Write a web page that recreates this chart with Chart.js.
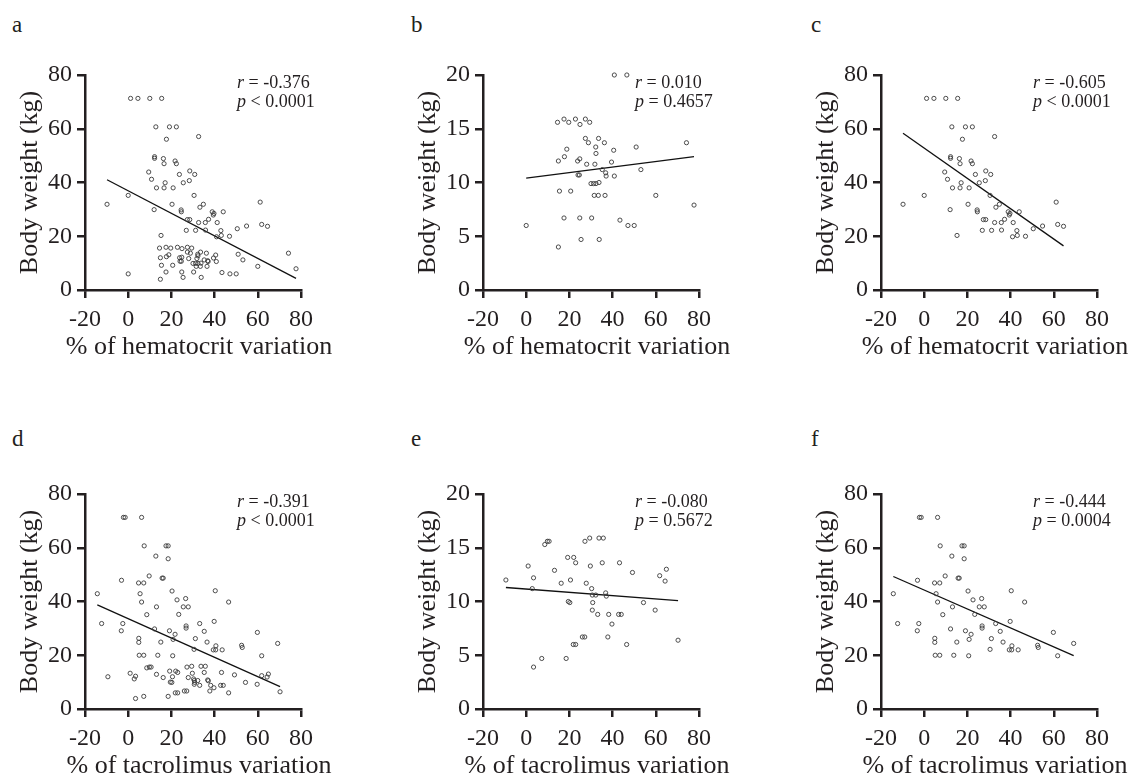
<!DOCTYPE html>
<html>
<head>
<meta charset="utf-8">
<script src="https://cdn.jsdelivr.net/npm/chart.js@4.4.1/dist/chart.umd.min.js"></script>
<style>
  html, body { margin: 0; padding: 0; background: #fff; }
  #page { position: relative; width: 1132px; height: 781px; overflow: hidden; }
  #page canvas { position: absolute; }
  .tag { position: absolute; font: 23px/23px 'Liberation Serif', 'Times New Roman', serif; color: #231f20; }
</style>
</head>
<body>
<div id="page">
  <div class="tag" style="left:12px;top:13px">a</div>
  <div class="tag" style="left:411px;top:13px">b</div>
  <div class="tag" style="left:811px;top:13px">c</div>
  <div class="tag" style="left:12px;top:427px">d</div>
  <div class="tag" style="left:411px;top:427px">e</div>
  <div class="tag" style="left:811px;top:427px">f</div>
  <canvas id="pa" width="340" height="380" style="left:0px;top:0px"></canvas>
  <canvas id="pb" width="340" height="380" style="left:398px;top:0px"></canvas>
  <canvas id="pc" width="336" height="380" style="left:796px;top:0px"></canvas>
  <canvas id="pd" width="340" height="380" style="left:0px;top:419px"></canvas>
  <canvas id="pe" width="340" height="380" style="left:398px;top:419px"></canvas>
  <canvas id="pf" width="336" height="380" style="left:796px;top:419px"></canvas>
</div>
<script>
const FONT = "'Liberation Serif', 'Times New Roman', serif";
const INK = '#231f20';

// % of hematocrit variation vs body weight: under 20 kg (panel b), 20 kg and over (panel c)
const hctLowX = [40.8, 46.6, 14.5, 17.5, 19.7, 22.8, 24.9, 27.4, 29.4, 27.4, 28.8, 33.5, 36.2,
  18.8, 32.2, 40.5, 50.9, 74.2, 17.7, 32.3, 14.9, 23.8, 24.8, 28.0, 31.8, 39.5, 35.2, 53.1,
  24.0, 24.6, 36.8, 37.0, 40.8, 30.0, 31.2, 32.3, 33.7, 15.4, 20.6, 31.5, 33.4, 36.5, 60.0,
  77.7, 17.5, 24.8, 30.3, 43.4, 47.1, 50.0, 0.0, 25.4, 33.8, 14.9];
const hctLowY = [20, 20, 15.6, 15.9, 15.6, 15.9, 15.4, 15.9, 15.6, 14.1, 13.7, 14.1, 13.7,
  13.1, 13.3, 13.0, 13.3, 13.7, 12.4, 12.7, 12.0, 12.0, 12.2, 11.7, 11.7, 11.9, 11.2, 11.2,
  10.7, 10.7, 10.9, 10.6, 10.6, 9.9, 9.9, 9.9, 10.0, 9.2, 9.2, 8.8, 8.8, 8.8, 8.8,
  7.9, 6.7, 6.7, 6.7, 6.5, 6.0, 6.0, 6.0, 4.7, 4.7, 4.0];
const hctHighX = [1.1, 4.5, 10.0, 15.5, 12.8, 19.1, 22.3, 17.7, 32.6, 12.2, 12.2, 16.3, 16.6,
  21.7, 22.3, 9.5, 28.5, 30.8, 23.7, 10.8, 28.3, 17.1, 25.5, 13.1, 16.6, 20.8, 30.5, 0.0,
  -9.8, 20.3, 33.2, 34.8, 12.0, 24.5, 24.6, 38.9, 39.7, 39.4, 44.0, 27.4, 28.5, 37.2, 32.6,
  35.7, 41.2, 61.1, 61.8, 64.5, 54.8, 50.5, 26.9, 31.2, 35.8, 42.9, 43.1, 40.9, 46.9, 15.2];
const hctHighY = [71.3, 71.3, 71.3, 71.3, 60.7, 60.7, 60.7, 56.1, 57.1, 49.6, 49.0, 48.9, 47.0,
  48.0, 47.0, 43.9, 44.3, 43.0, 43.0, 41.2, 40.7, 39.9, 39.9, 38.0, 38.0, 38.0, 35.2, 35.2,
  31.9, 31.9, 30.8, 31.9, 29.9, 29.8, 29.1, 29.1, 28.5, 27.9, 29.1, 26.2, 26.2, 26.3, 25.1,
  25.1, 25.1, 32.7, 24.4, 23.7, 23.8, 22.8, 22.2, 22.2, 22.3, 22.1, 20.3, 19.8, 20.0, 20.3];

// % of tacrolimus variation vs body weight: under 20 kg (panel e), 20 kg and over (panel f)
const tacLowX = [-9.4, 0.9, 3.4, 2.8, 3.4, 7.2, 8.6, 9.8, 10.6, 13.1, 16.2, 19.2, 22.0, 22.9,
  20.5, 19.5, 20.2, 18.5, 21.8, 22.9, 26.0, 27.1, 27.2, 29.4, 29.7, 27.8, 30.3, 30.6, 32.2,
  30.8, 30.6, 33.1, 33.7, 35.7, 35.2, 36.8, 37.1, 38.2, 37.8, 39.7, 42.8, 44.0, 43.2, 46.5,
  49.2, 54.3, 59.7, 61.8, 64.3, 64.9, 70.3];
const tacLowY = [12.0, 13.3, 12.2, 11.2, 3.9, 4.7, 15.3, 15.6, 15.6, 12.9, 11.7, 14.1, 14.1, 13.6,
  12.0, 10.0, 9.9, 4.7, 6.0, 6.0, 6.7, 6.7, 15.6, 15.9, 13.3, 11.7, 11.2, 10.6, 10.6,
  9.9, 9.2, 8.8, 15.9, 15.9, 13.6, 10.8, 10.5, 8.8, 6.7, 7.9, 8.8, 8.8, 13.6, 6.0,
  12.7, 9.9, 9.2, 12.4, 11.9, 13.0, 6.4];
const tacHighX = [-14.3, -12.3, -3.2, -3.1, -2.5, -2.2, -1.4, 6.2, 7.4, 4.8, 7.2, 5.5, 6.2, 8.6,
  4.9, 4.9, 5.1, 7.2, 9.7, 12.8, 13.1, 12.2, 13.7, 15.1, 15.7, 16.2, 17.5, 18.5, 18.5, 19.1,
  20.3, 20.8, 20.6, 21.7, 22.6, 23.4, 25.5, 27.8, 26.6, 26.8, 26.8, 30.5, 31.1, 33.1, 35.2,
  36.5, 39.8, 39.4, 40.5, 40.6, 40.3, 43.5, 46.5, 52.5, 52.8, 59.8, 61.8, 69.2];
const tacHighY = [42.9, 31.8, 29.1, 47.9, 31.8, 71.3, 71.3, 71.3, 60.7, 46.9, 46.9, 42.9, 39.8, 35.1,
  26.3, 24.8, 20.0, 20.0, 49.5, 56.9, 38.0, 29.8, 20.0, 24.9, 48.7, 48.7, 60.7, 60.7, 55.9, 29.1,
  43.9, 25.9, 19.8, 27.8, 40.6, 35.2, 38.0, 38.0, 41.1, 30.9, 30.1, 22.2, 26.2, 31.8, 28.9,
  24.9, 32.6, 22.0, 22.0, 23.5, 44.0, 22.0, 39.8, 23.7, 22.9, 28.5, 19.8, 24.4];

// panels a..f
const panelR = ['-0.376', '0.010', '-0.605', '-0.391', '-0.080', '-0.444'];
const panelP = ['< 0.0001', '= 0.4657', '< 0.0001', '< 0.0001', '= 0.5672', '= 0.0004'];
const fitSlope = [-0.419, 0.0256, -0.564, -0.360, -0.0153, -0.353];
const fitIntercept = [36.9, 10.41, 52.8, 33.6, 11.16, 44.26];

const xTicks = [-20, 0, 20, 40, 60, 80];
const yTicksAll = [0, 20, 40, 60, 80];
const yTicksLow = [0, 5, 10, 15, 20];

const toPoints = (xs, ys) => xs.map((x, i) => ({ x: x, y: ys[i] }));

// the full panels (a, d) show the low group below 20 kg plus the high group
const lowOnly = (xs, ys) => xs.filter((x, i) => ys[i] < 19.9);
const lowOnlyY = (ys) => ys.filter(y => y < 19.9);

// axis titles and r / p text; drawn here so Chart.js does not squeeze the titles to the axis length
const panelText = {
  id: 'panelText',
  afterDraw(chart, args, opts) {
    const { ctx, chartArea } = chart;
    const x0 = chartArea.left + 152;
    ctx.save();
    ctx.fillStyle = INK;
    ctx.textBaseline = 'alphabetic';
    ctx.textAlign = 'left';
    [['r', ' = ' + opts.r, 13], ['p', ' ' + opts.p, 32]].forEach(([sym, rest, dy]) => {
      ctx.font = 'italic 18px ' + FONT;
      ctx.fillText(sym, x0, chartArea.top + dy);
      const w = ctx.measureText(sym).width;
      ctx.font = '18px ' + FONT;
      ctx.fillText(rest, x0 + w, chartArea.top + dy);
    });

    ctx.font = '26px ' + FONT;
    ctx.textAlign = 'center';
    ctx.textBaseline = 'middle';
    ctx.fillText(opts.xTitle, (chartArea.left + chartArea.right) / 2 + 6, chartArea.bottom + 57);

    ctx.translate(chartArea.left - 55, (chartArea.top + chartArea.bottom) / 2);
    ctx.rotate(-Math.PI / 2);
    ctx.fillText('Body weight (kg)', 0, 0);
    ctx.restore();
  }
};

function axisStyle(ticks, isY) {
  return {
    type: 'linear',
    min: ticks[0],
    max: ticks[ticks.length - 1],
    ticks: {
      stepSize: ticks[1] - ticks[0],
      color: INK,
      padding: isY ? 5 : 7,
      maxRotation: 0,
      font: { family: FONT, size: 24 }
    },
    grid: { drawOnChartArea: false, drawTicks: true, tickLength: 8, color: INK, lineWidth: 2.5 },
    border: { display: true, color: INK, width: 2.5 },
    title: { display: false },
    afterFit: isY ? (s) => { s.width = 85; } : (s) => { s.height = 90; }
  };
}

function makePanel(id, idx, xs, ys, yTicks, xTitle) {
  const lo = Math.min(...xs);
  const hi = Math.max(...xs);
  const fit = (x) => fitSlope[idx] * x + fitIntercept[idx];
  const canvas = document.getElementById(id);
  new Chart(canvas, {
    type: 'scatter',
    data: {
      datasets: [
        {
          data: toPoints(xs, ys),
          pointRadius: 2.1,
          pointBorderWidth: 0.9,
          pointBorderColor: '#3a3a3a',
          pointBackgroundColor: 'rgba(255,255,255,0)',
          clip: false
        },
        {
          data: [{ x: lo, y: fit(lo) }, { x: hi, y: fit(hi) }],
          showLine: true,
          borderColor: '#111',
          borderWidth: 1.3,
          pointRadius: 0,
          clip: false
        }
      ]
    },
    options: {
      responsive: false,
      animation: false,
      devicePixelRatio: 1,
      events: [],
      layout: { padding: { left: 0, top: 75, right: canvas.width - 85 - 216, bottom: 0 } },
      scales: {
        x: axisStyle(xTicks, false),
        y: axisStyle(yTicks, true)
      },
      plugins: {
        legend: { display: false },
        tooltip: { enabled: false },
        panelText: { r: panelR[idx], p: panelP[idx], xTitle: xTitle }
      }
    },
    plugins: [panelText]
  });
}

const hctTitle = '% of hematocrit variation';
const tacTitle = '% of tacrolimus variation';

makePanel('pa', 0, lowOnly(hctLowX, hctLowY).concat(hctHighX), lowOnlyY(hctLowY).concat(hctHighY), yTicksAll, hctTitle);
makePanel('pb', 1, hctLowX, hctLowY, yTicksLow, hctTitle);
makePanel('pc', 2, hctHighX, hctHighY, yTicksAll, hctTitle);
makePanel('pd', 3, tacLowX.concat(tacHighX), tacLowY.concat(tacHighY), yTicksAll, tacTitle);
makePanel('pe', 4, tacLowX, tacLowY, yTicksLow, tacTitle);
makePanel('pf', 5, tacHighX, tacHighY, yTicksAll, tacTitle);
</script>
</body>
</html>
